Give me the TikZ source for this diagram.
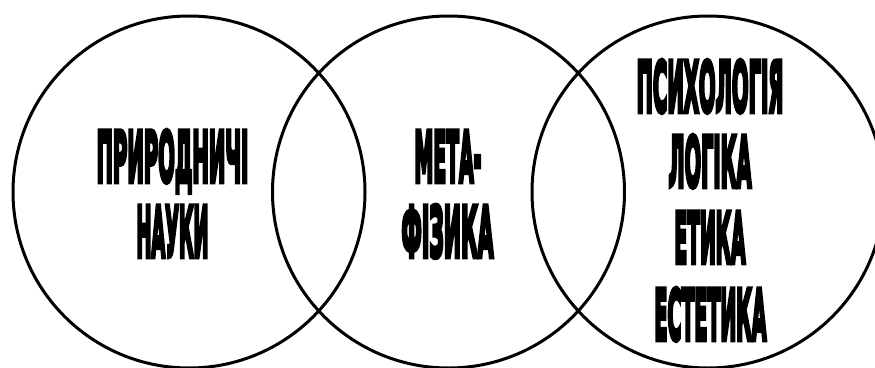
\documentclass[tikz,border=0pt]{standalone}
\usepackage{fontspec}
\usepackage{graphicx}
\newfontfamily\heavyfont{DejaVu Sans}[FakeBold=8]
\tikzset{
  ring/.style={circle, draw=black, line width=3pt, minimum size=352pt, inner sep=0pt},
  word/.style={inner sep=0pt, anchor=base, font=\heavyfont\bfseries\fontsize{69}{69}\selectfont}
}
\newcommand{\sq}[2]{\resizebox{#1pt}{\height}{#2}}
\begin{document}
\begin{tikzpicture}[x=1pt,y=-1pt]
\useasboundingbox (0,0) rectangle (875,367);
\node[ring] (c1) at (189,192) {};
\node[ring] (c2) at (448.5,192) {};
\node[ring] (c3) at (708,192) {};
\node[word] (t1) at (172.5,181.5) {\sq{152}{ПРИРОДНИЧІ}};
\node[word] (t2) at (172.5,256.5) {\sq{72}{НАУКИ}};
\node[word] (t3) at (448,181.5) {\sq{67}{МЕТА-}};
\node[word] (t4) at (447.5,256.5) {\sq{92}{ФІЗИКА}};
\node[word] (t5) at (710,111.5) {\sq{147}{ПСИХОЛОГІЯ}};
\node[word] (t6) at (710,186.5) {\sq{83}{ЛОГІКА}};
\node[word] (t7) at (710,262.5) {\sq{71}{ЕТИКА}};
\node[word] (t8) at (710.5,339.5) {\sq{112}{ЕСТЕТИКА}};
\end{tikzpicture}
\end{document}
